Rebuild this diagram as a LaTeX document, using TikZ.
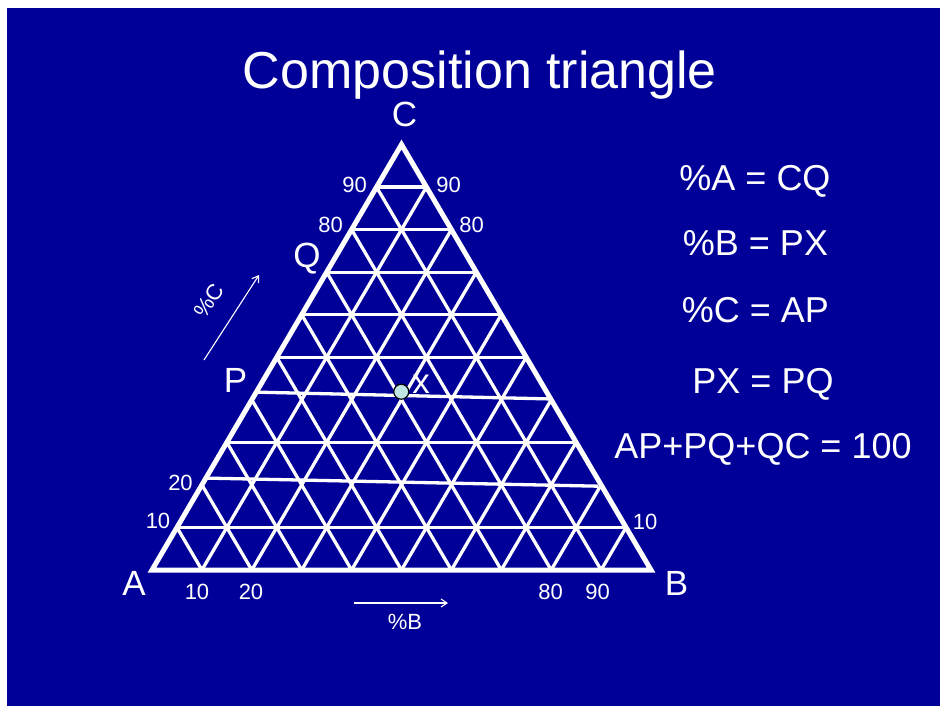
\documentclass[tikz,border=0pt]{standalone}
\usepackage{fontspec}
\setmainfont{Liberation Sans}
\usetikzlibrary{arrows.meta}
\definecolor{slideblue}{RGB}{0,0,153}
\definecolor{dotcyan}{RGB}{190,228,228}
\tikzset{
  rim/.style={white, line width=5pt, line join=miter},
  gridln/.style={white, line width=3.3pt},
  titletxt/.style={font=\fontsize{52}{60}\selectfont},
  eqtxt/.style={font=\fontsize{36}{42}\selectfont},
  labtxt/.style={font=\fontsize{35}{40}\selectfont},
  numtxt/.style={font=\fontsize{22}{26}\selectfont},
  pctarrow/.style={white, line width=1.1pt, -{Straight Barb[length=6pt,width=8pt]}}
}
\begin{document}
\begin{tikzpicture}[x=1pt,y=-1pt,every node/.style={text=white, inner sep=0pt}]
\useasboundingbox (0,0) rectangle (940,706);
\fill[white] (0,0) rectangle (940,706);
\fill[slideblue] (7,8) rectangle (940,706);

\node[titletxt, anchor=base] (title) at (480,89) {Composition triangle};

\coordinate (A) at (152,570);
\coordinate (B) at (651,570);
\coordinate (C) at (401.5,144.5);

% grid in (%B,%C) units
\begin{scope}[shift={(A)}, x={(4.99pt,0pt)}, y={(2.495pt,4.255pt)}]
  \foreach \k in {10,30,50,60,70,80,90}
    \draw[gridln] (0,\k) -- ({100-\k},\k);
  \draw[gridln] (0,21.6) -- (79.5,19.7);
  \coordinate (P) at (0,41.8);
  \coordinate (Pend) at (59.8,40.2);
  \draw[gridln] (P) -- (Pend);
  \foreach \k in {10,20,...,90}{
    \draw[gridln] (\k,0) -- (\k,{100-\k});
    \draw[gridln] (\k,0) -- (0,\k);
  }
  \coordinate (Q) at (0,70);
  \coordinate (X) at (29,41.9);
\end{scope}

\draw[rim] (A) -- (B) -- (C) -- cycle;
\draw[black, fill=dotcyan, line width=1.2pt] (X) circle (7.5pt);

\node[labtxt, anchor=base] (labA) at (134,595) {A};
\node[labtxt, anchor=base] (labB) at (676.5,595) {B};
\node[labtxt, anchor=base] (labC) at (404.5,127) {C};
\node[labtxt, anchor=base] (labP) at (235.5,392) {P};
\node[labtxt, anchor=base] (labQ) at (307,267) {Q};
\node[labtxt, anchor=base] (labX) at (421,393) {x};

\node[numtxt, anchor=base] (l10) at (158,528) {10};
\node[numtxt, anchor=base] (l20) at (180.5,490) {20};
\node[numtxt, anchor=base] (l80) at (330.5,232) {80};
\node[numtxt, anchor=base] (l90) at (354.5,193) {90};
\node[numtxt, anchor=base] (r90) at (448.5,193) {90};
\node[numtxt, anchor=base] (r80) at (471.5,232) {80};
\node[numtxt, anchor=base] (r10) at (645,529) {10};
\node[numtxt, anchor=base] (b10) at (197,599) {10};
\node[numtxt, anchor=base] (b20) at (251,599) {20};
\node[numtxt, anchor=base] (b80) at (550.5,599) {80};
\node[numtxt, anchor=base] (b90) at (597.5,599) {90};

% direction arrows
\coordinate (cfrom) at (204,360);
\coordinate (cto) at (259,275);
\draw[pctarrow] (cfrom) -- (cto);
\node[numtxt, rotate=57] (pctC) at (209,301) {\%C};
\coordinate (bfrom) at (354,603);
\coordinate (bto) at (448,603);
\draw[pctarrow] (bfrom) -- (bto);
\node[numtxt, anchor=base] (pctB) at (405,629) {\%B};

\node[eqtxt, anchor=base] (eqA) at (755,190.5) {\%A = CQ};
\node[eqtxt, anchor=base] (eqB) at (755.5,255) {\%B = PX};
\node[eqtxt, anchor=base] (eqC) at (755.5,322) {\%C = AP};
\node[eqtxt, anchor=base] (eqPX) at (763,393) {PX = PQ};
\node[eqtxt, anchor=base] (eqSum) at (763,458) {AP+PQ+QC = 100};
\end{tikzpicture}
\end{document}
